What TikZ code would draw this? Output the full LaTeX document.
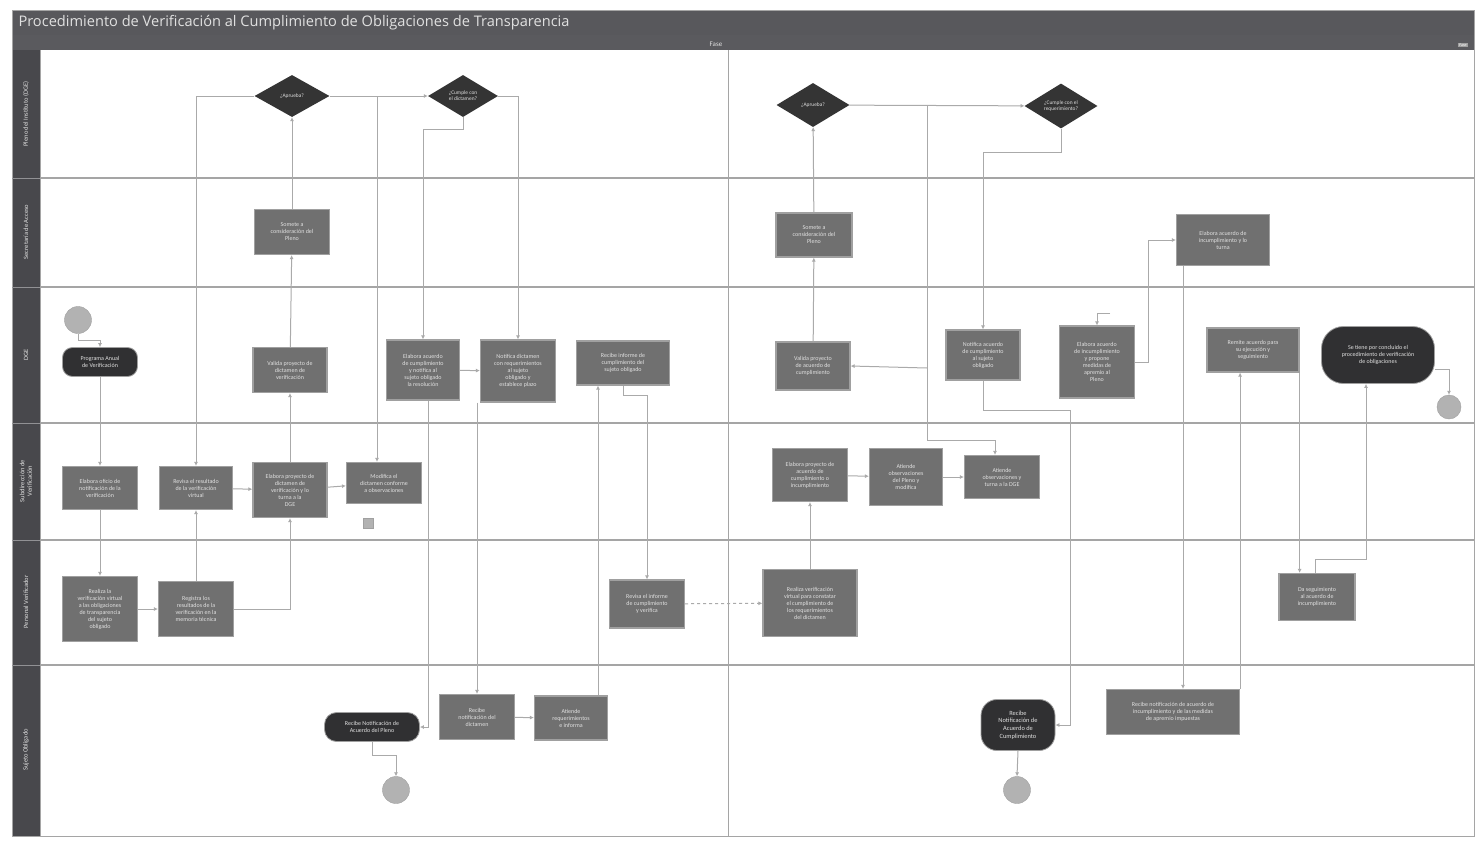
\documentclass[tikz,border=0pt]{standalone}
\usepackage{fontspec}
\setmainfont{Carlito}
\newfontfamily\titlefont{Open Sans}
\usetikzlibrary{shapes.geometric,arrows.meta,calc}
\definecolor{titlebar}{RGB}{88,88,92}
\definecolor{lanecol}{RGB}{72,72,76}
\definecolor{boxfill}{RGB}{112,112,112}
\definecolor{boxline}{RGB}{160,160,160}
\definecolor{decfill}{RGB}{52,52,52}
\definecolor{termfill}{RGB}{48,48,50}
\definecolor{circfill}{RGB}{178,178,178}
\definecolor{conn}{RGB}{170,170,170}
\definecolor{laneline}{RGB}{165,165,165}
\definecolor{boxtext}{RGB}{225,225,225}
\tikzset{
  proc/.style={draw=boxline, line width=1.2pt, fill=boxfill, text=boxtext, align=center,
    font=\fontsize{6}{7}\selectfont, inner sep=1pt},
  dec/.style={diamond, fill=decfill, text=boxtext, align=center, inner sep=0pt,
    font=\fontsize{5.4}{6.2}\selectfont},
  term/.style={rounded corners=11pt, fill=termfill, draw=boxline, line width=0.8pt, text=boxtext,
    align=center, font=\fontsize{6}{7}\selectfont, inner sep=1pt},
  evt/.style={circle, fill=circfill, draw=boxline, minimum size=27pt, inner sep=0pt},
  arr/.style={draw=conn, line width=1pt, -{Latex[length=4pt,width=4pt]}},
  lanelab/.style={rotate=90, text=boxtext, font=\fontsize{6.5}{7.5}\selectfont, align=center},
}
\begin{document}
\begin{tikzpicture}[x=1pt,y=-1pt]
\useasboundingbox (0,0) rectangle (1481,841);
\fill[white] (0,0) rectangle (1481,841);
% frame and headers
\fill[titlebar] (12,10) rectangle (1474,35);
\fill[lanecol!90!white] (12,35) rectangle (1474,50);
\fill[lanecol] (12,50) rectangle (40,836);
\node[anchor=west, text=boxtext, font=\titlefont\fontsize{14.6}{16}\selectfont] (title) at (15,23)
  {Procedimiento de Verificación al Cumplimiento de Obligaciones de Transparencia};
\node[text=boxtext, font=\fontsize{7}{8}\selectfont] (fase) at (716,44) {Fase};
\node[fill=boxline, text=white, font=\fontsize{4}{5}\selectfont, inner sep=1pt] (fase2) at (1463,45) {Fase};
\draw[laneline, line width=0.8pt] (12,10) rectangle (1474,836);
% lane separators
\foreach \yy in {178,287,423,540,665}{
  \draw[laneline, line width=1.2pt] (40,\yy) -- (1474,\yy);
  \draw[lanecol!60!white, line width=1pt] (12,\yy) -- (40,\yy);
}
\draw[laneline, line width=1pt] (728,50) -- (728,836);
\draw[laneline, line width=0.8pt] (40,50) -- (40,836);
% lane labels
\node[lanelab] (L1) at (26,114) {Pleno del Instituto (DGE)};
\node[lanelab] (L2) at (26,232) {Secretaría de Acceso};
\node[lanelab] (L3) at (26,355) {DGE};
\node[lanelab] (L4) at (26,481) {Subdirección de\\Verificación};
\node[lanelab] (L5) at (26,602) {Personal Verificador};
\node[lanelab] (L6) at (26,750) {Sujeto Obligado};

% ---- lane 1: Pleno
\node[dec, minimum width=75pt, minimum height=42pt] (D1) at (292,96) {¿Aprueba?};
\node[dec, minimum width=70pt, minimum height=42pt] (D2) at (463,96) {¿Cumple con\\el dictamen?};
\node[dec, minimum width=73pt, minimum height=44pt] (D3) at (813,105) {¿Aprueba?};
\node[dec, minimum width=73pt, minimum height=43pt] (D4) at (1061,106) {¿Cumple con el\\requerimiento?};
% ---- lane 2
\node[proc, minimum width=75pt, minimum height=45pt] (B1) at (292,232) {Somete a\\consideración del\\Pleno};
\node[proc, minimum width=76pt, minimum height=44pt] (B2) at (814,235) {Somete a\\consideración del\\Pleno};
\node[proc, minimum width=93pt, minimum height=51pt] (B3) at (1223,240) {Elabora acuerdo de\\incumplimiento y lo\\turna};
% ---- lane 3
\node[evt] (S1) at (78,320) {};
\node[term, minimum width=75pt, minimum height=29pt, rounded corners=10pt] (T1) at (100,362) {Programa Anual\\de Verificación};
\node[proc, minimum width=74pt, minimum height=45pt] (B4) at (290,370) {Valida proyecto de\\dictamen de\\verificación};
\node[proc, minimum width=73pt, minimum height=60pt] (B5) at (423,370) {Elabora acuerdo\\de cumplimiento\\y notifica al\\sujeto obligado\\la resolución};
\node[proc, minimum width=75pt, minimum height=62pt] (B6) at (518,371) {Notifica dictamen\\con requerimientos\\al sujeto\\obligado y\\establece plazo};
\node[proc, minimum width=93pt, minimum height=44pt] (B7) at (623,363) {Recibe informe de\\cumplimiento del\\sujeto obligado};
\node[proc, minimum width=74pt, minimum height=48pt] (B8) at (813,366) {Valida proyecto\\de acuerdo de\\cumplimiento};
\node[proc, minimum width=74pt, minimum height=50pt] (B9) at (983,355) {Notifica acuerdo\\de cumplimiento\\al sujeto\\obligado};
\node[proc, minimum width=75pt, minimum height=72pt] (B10) at (1097,362) {Elabora acuerdo\\de incumplimiento\\y propone\\medidas de\\apremio al\\Pleno};
\node[proc, minimum width=92pt, minimum height=44pt] (B11) at (1253,350) {Remite acuerdo para\\su ejecución y\\seguimiento};
\node[term, minimum width=113pt, minimum height=57pt, rounded corners=22pt] (T2) at (1378,355) {Se tiene por concluido el\\procedimiento de verificación\\de obligaciones};
\node[evt, minimum size=24pt] (E1) at (1449,407) {};
% ---- lane 4
\node[proc, minimum width=75pt, minimum height=43pt] (B12) at (100,488) {Elabora oficio de\\notificación de la\\verificación};
\node[proc, minimum width=73pt, minimum height=43pt] (B13) at (196,488) {Revisa el resultado\\de la verificación\\virtual};
\node[proc, minimum width=74pt, minimum height=55pt] (B14) at (290,490) {Elabora proyecto de\\dictamen de\\verificación y lo\\turna a la\\DGE};
\node[proc, minimum width=75pt, minimum height=41pt] (B15) at (384,483) {Modifica el\\dictamen conforme\\a observaciones};
\node[fill=circfill, draw=boxline, minimum size=10pt, inner sep=0pt] (sq) at (368,523) {};
\node[proc, minimum width=75pt, minimum height=53pt] (B16) at (810,475) {Elabora proyecto de\\acuerdo de\\cumplimiento o\\incumplimiento};
\node[proc, minimum width=73pt, minimum height=57pt] (B17) at (906,477) {Atiende\\observaciones\\del Pleno y\\modifica};
\node[proc, minimum width=75pt, minimum height=43pt] (B18) at (1002,477) {Atiende\\observaciones y\\turna a la DGE};
% ---- lane 5
\node[proc, minimum width=75pt, minimum height=65pt] (B19) at (100,609) {Realiza la\\verificación virtual\\a las obligaciones\\de transparencia\\del sujeto\\obligado};
\node[proc, minimum width=75pt, minimum height=55pt] (B20) at (196,609) {Registra los\\resultados de la\\verificación en la\\memoria técnica};
\node[proc, minimum width=75pt, minimum height=48pt] (B21) at (647,604) {Revisa el informe\\de cumplimiento\\y verifica};
\node[proc, minimum width=94pt, minimum height=67pt] (B22) at (810,603) {Realiza verificación\\virtual para constatar\\el cumplimiento de\\los requerimientos\\del dictamen};
\node[proc, minimum width=76pt, minimum height=47pt] (B23) at (1317,597) {Da seguimiento\\al acuerdo de\\incumplimiento};
% ---- lane 6
\node[term, minimum width=95pt, minimum height=29pt, rounded corners=12pt] (T3) at (372,727) {Recibe Notificación de\\Acuerdo del Pleno};
\node[evt] (E2) at (396,790) {};
\node[proc, minimum width=75pt, minimum height=45pt] (B24) at (477,717) {Recibe\\notificación del\\dictamen};
\node[proc, minimum width=73pt, minimum height=44pt] (B25) at (571,718) {Atiende\\requerimientos\\e informa};
\node[term, minimum width=74pt, minimum height=51pt, rounded corners=16pt, font=\fontsize{6.4}{7.6}\selectfont] (T4) at (1018,725) {Recibe\\Notificación de\\Acuerdo de\\Cumplimiento};
\node[evt] (E3) at (1017,790) {};
\node[proc, minimum width=133pt, minimum height=45pt] (B26) at (1173,712) {Recibe notificación de acuerdo de\\incumplimiento y de las medidas\\de apremio impuestas};

% junction coordinates
\coordinate (j1) at (377,96);
\coordinate (j2) at (927,105);
\coordinate (j3) at (927,368);
\coordinate (j4) at (1110,313);

% ---- connectors left half
\draw[arr] (S1.south) -- ++(0,7) -| (T1.north);
\draw[arr] (T1) -- (B12);
\draw[arr] (B12) -- (B19);
\draw[arr] (B19) -- (B20);
\draw[arr] (B20) -- (B13);
\draw[arr] (D1.west) -| (B13.north);
\draw[arr] (B13) -- (B14);
\draw[arr] (B14) -- (B15);
\draw[arr] (B20.east) -| (B14.south);
\draw[arr] (B14) -- (B4);
\draw[arr] (B4) -- (B1);
\draw[arr] (B1) -- (D1);
\draw[arr] (D1) -- (D2);
\draw[arr] (j1) -- (j1 |- B15.north);
\draw[arr] (D2.south) -- ++(0,12) -| (B5.north);
\draw[arr] (D2.east) -| (B6.north);
\draw[arr] (B5) -- (B6);
\draw[arr] ([xshift=5pt]B5.south) |- (T3.east);
\draw[arr] (B24.north |- B6.south) -- (B24.north);
\draw[arr] (B24) -- (B25);
\draw[arr] ([xshift=27pt]B25.north) -- ([xshift=27pt]B25.north |- B7.south);
\draw[arr] (B7.south) -- ++(0,10) -| (B21.north);
\draw[arr, dashed] (B21) -- (B22);
\draw[arr] (T3.south) -- ++(0,14) -| (E2.north);
% ---- connectors right half
\draw[arr] (B22) -- (B16);
\draw[arr] (B16) -- (B17);
\draw[arr] (B17) -- (B18);
\draw[arr] (B8) -- (B2);
\draw[arr] (B2) -- (D3);
\draw[arr] (D3) -- (D4);
\draw[arr] (j2) -- (927,440) -| ([xshift=-7pt]B18.north);
\draw[arr] (j3) -- (B8.east);
\draw[arr] (D4.south) -- ++(0,24) -| (B9.north);
\draw[arr] (B9.south) -- ++(0,30) -| (1070,560) |- (T4.east);
\draw[arr] (T4.south) -- (E3.north);
\draw[arr] (j4) -| (B10.north);
\draw[arr] (B10.east) -- ++(13,0) |- (B3.west);
\draw[arr] ([xshift=-40pt]B3.south) -- ([xshift=-40pt]B3.south |- B26.north);
\draw[arr] (B26.north east) -- (B26.north east |- B11.south);
\draw[arr] (B11.south east) -- (B11.south east |- B23.north);
\draw[arr] ([xshift=-2pt]B23.north) -- ++(0,-13) -| ([xshift=-12pt]T2.south);
\draw[arr] ([yshift=-14pt]T2.east) -| (E1.north);
\end{tikzpicture}
\end{document}
